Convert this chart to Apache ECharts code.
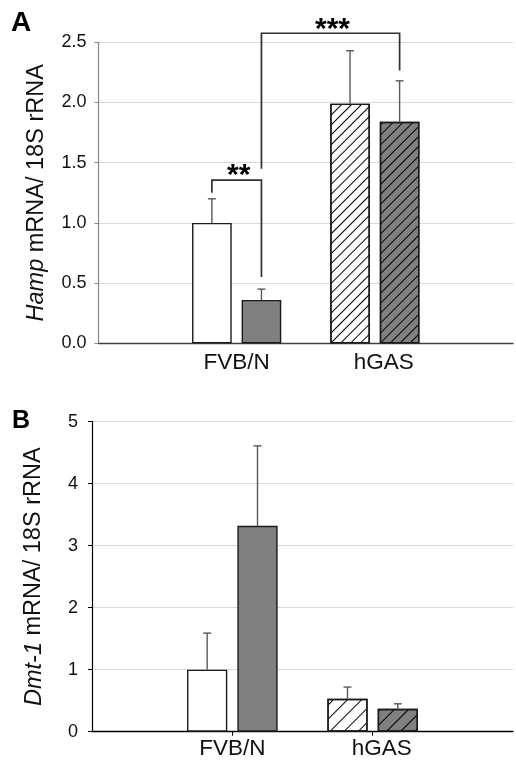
<!DOCTYPE html>
<html><head><meta charset="utf-8">
<script src="https://cdn.jsdelivr.net/npm/echarts@6/dist/echarts.min.js"></script>
<style>html,body{margin:0;padding:0;background:#fff}#c{width:516px;height:763px}</style>
</head><body><div id="c"></div>
<script>
// ---- data ----
const categories = ['', 'FVB/N', 'hGAS', ''];
// Panel A: Hamp mRNA / 18S rRNA
const hampWhite = [null, 1.00, 1.99, null];
const hampWhiteErr = [null, 0.20, 0.44, null];
const hampGray = [null, 0.36, 1.84, null];
const hampGrayErr = [null, 0.09, 0.34, null];
// Panel B: Dmt-1 mRNA / 18S rRNA
const dmtWhite = [null, 1.00, 0.53, null];
const dmtWhiteErr = [null, 0.59, 0.19, null];
const dmtGray = [null, 3.32, 0.37, null];
const dmtGrayErr = [null, 1.29, 0.08, null];
// y tick values
const ticksA = [0, 0.5, 1.0, 1.5, 2.0, 2.5];
const ticksB = [0, 1, 2, 3, 4, 5];
// significance brackets (panel A): [left cat, left bar slot, left end y, right cat, right bar slot, right end y, top y]
const bracketsA = [
  [1, 0, 1.25, 1, 1, 0.55, 1.355],
  [1, 1, 1.45, 2, 1, 2.265, 2.575]
];
const bracketLabelsA = ['**', '***'];
const hatchedCategory = 'hGAS';

// ---- styling ----
const FONT = '"Liberation Sans", Arial, Helvetica, sans-serif';
const BAR_FRAC = 0.287;
const GAP_FRAC = 0.25;

function hatch(gap) {
  return { symbol: 'rect', symbolSize: 1, dashArrayX: [1, 0], dashArrayY: [1, gap - 1], rotation: -Math.PI / 4, color: '#000' };
}
function barData(vals, fill, gap) {
  return vals.map((v, i) => v == null ? '-' : ({
    value: v,
    itemStyle: categories[i] === hatchedCategory ? { color: fill, decal: hatch(gap) } : { color: fill }
  }));
}
function errData(vals, errs, slot) {
  const out = [];
  vals.forEach((v, i) => { if (v != null) out.push([i, v, errs[i], slot]); });
  return out;
}
function slotOffset(api, slot) {
  const band = api.size([1, 0])[0];
  const bw = band * BAR_FRAC;
  return (slot ? 1 : -1) * bw * (1 + GAP_FRAC) / 2;
}
function renderErr(params, api) {
  const cat = api.value(0), m = api.value(1), e = api.value(2), slot = api.value(3);
  const p0 = api.coord([cat, m]);
  const p1 = api.coord([cat, m + e]);
  const x = p0[0] + slotOffset(api, slot);
  const st = { stroke: '#595959', lineWidth: 1.4 };
  return { type: 'group', children: [
    { type: 'line', shape: { x1: x, y1: p0[1], x2: x, y2: p1[1] }, style: st },
    { type: 'line', shape: { x1: x - 4, y1: p1[1], x2: x + 4, y2: p1[1] }, style: st }
  ]};
}
function renderBracket(params, api) {
  const cl = api.value(0), sl = api.value(1), yl = api.value(2);
  const cr = api.value(3), sr = api.value(4), yr = api.value(5), yt = api.value(6);
  const pl = api.coord([cl, yl]), pr = api.coord([cr, yr]), pt = api.coord([cl, yt]);
  const xl = pl[0] + slotOffset(api, sl);
  const xr = pr[0] + slotOffset(api, sr);
  return { type: 'group', children: [
    { type: 'polyline', shape: { points: [[xl, pl[1]], [xl, pt[1]], [xr, pt[1]], [xr, pr[1]]] },
      style: { stroke: '#303030', lineWidth: 1.7, fill: null } },
    { type: 'text', x: (xl + xr) / 2 + 2, y: pt[1] - 4,
      style: { text: bracketLabelsA[params.dataIndex], font: 'bold 30px ' + FONT, fill: '#000', align: 'center', verticalAlign: 'middle' } }
  ]};
}
function catLabel(v) { return v === hatchedCategory ? '{s|' + v + '}' : v; }

const chart = echarts.init(document.getElementById('c'), null, { renderer: 'canvas' });
const option = {
  animation: false,
  backgroundColor: '#fff',
  graphic: [
    { type: 'text', x: 11, y: 23, style: { text: 'A', font: 'bold 28px ' + FONT, fill: '#000', verticalAlign: 'middle' } },
    { type: 'text', x: 12, y: 421, style: { text: 'B', font: 'bold 25px ' + FONT, fill: '#000', verticalAlign: 'middle' } }
  ],
  grid: [
    { left: 98.5, right: 1, top: 42.3, height: 301 },
    { left: 92, right: 1, top: 421.7, height: 310 }
  ],
  xAxis: [
    { gridIndex: 0, type: 'category', data: categories, boundaryGap: false,
      axisLine: { lineStyle: { color: '#404040', width: 1.4 } }, axisTick: { show: false },
      axisLabel: { interval: 0, margin: 8, fontSize: 22.5, fontFamily: FONT, color: '#111', formatter: catLabel,
        rich: { s: { padding: [0, 0, 0, 18], fontSize: 22.5, fontFamily: FONT, color: '#111' } } } },
    { gridIndex: 1, type: 'category', data: categories, boundaryGap: false,
      axisLine: { lineStyle: { color: '#000', width: 1.4 } },
      axisTick: { show: true, length: 4, interval: (i) => i === 1 || i === 2, lineStyle: { color: '#000', width: 1 } },
      axisLabel: { interval: 0, margin: 6, fontSize: 22.5, fontFamily: FONT, color: '#111', formatter: catLabel,
        rich: { s: { padding: [0, 0, 0, 18], fontSize: 22.5, fontFamily: FONT, color: '#111' } } } }
  ],
  yAxis: [
    { gridIndex: 0, type: 'value', min: ticksA[0], max: ticksA[ticksA.length - 1], interval: ticksA[1] - ticksA[0],
      name: '{i|Hamp} mRNA/ 18S rRNA', nameLocation: 'middle', nameGap: 50,
      nameTextStyle: { fontSize: 23.5, fontFamily: FONT, color: '#111',
        rich: { i: { fontStyle: 'italic', fontSize: 23.5, fontFamily: FONT, color: '#111' } } },
      axisLine: { show: true, lineStyle: { color: '#868686', width: 1.2 } },
      axisTick: { show: true, length: 4, lineStyle: { color: '#868686' } },
      splitLine: { show: true, lineStyle: { color: '#d9d9d9', width: 1 } },
      axisLabel: { margin: 12, fontSize: 18, fontFamily: FONT, color: '#111', formatter: (v) => v.toFixed(1) } },
    { gridIndex: 1, type: 'value', min: ticksB[0], max: ticksB[ticksB.length - 1], interval: ticksB[1] - ticksB[0],
      name: '{i|Dmt-1} mRNA/ 18S rRNA', nameLocation: 'middle', nameGap: 46,
      nameTextStyle: { fontSize: 23.5, fontFamily: FONT, color: '#111',
        rich: { i: { fontStyle: 'italic', fontSize: 23.5, fontFamily: FONT, color: '#111' } } },
      axisLine: { show: true, lineStyle: { color: '#000', width: 1.2 } },
      axisTick: { show: true, length: 4, lineStyle: { color: '#000' } },
      splitLine: { show: true, lineStyle: { color: '#d9d9d9', width: 1 } },
      axisLabel: { margin: 14, fontSize: 18, fontFamily: FONT, color: '#111' } }
  ],
  series: [
    { type: 'bar', xAxisIndex: 0, yAxisIndex: 0, barWidth: (BAR_FRAC * 100) + '%', barGap: (GAP_FRAC * 100) + '%',
      data: barData(hampWhite, '#ffffff', 7), itemStyle: { borderColor: '#1a1a1a', borderWidth: 1.4 } },
    { type: 'bar', xAxisIndex: 0, yAxisIndex: 0, barWidth: (BAR_FRAC * 100) + '%', barGap: (GAP_FRAC * 100) + '%',
      data: barData(hampGray, '#808080', 7), itemStyle: { borderColor: '#1a1a1a', borderWidth: 1.4 } },
    { type: 'custom', xAxisIndex: 0, yAxisIndex: 0, z: 3, renderItem: renderErr, data: errData(hampWhite, hampWhiteErr, 0) },
    { type: 'custom', xAxisIndex: 0, yAxisIndex: 0, z: 3, renderItem: renderErr, data: errData(hampGray, hampGrayErr, 1) },
    { type: 'custom', xAxisIndex: 0, yAxisIndex: 0, z: 4, clip: false, renderItem: renderBracket, data: bracketsA },
    { type: 'bar', xAxisIndex: 1, yAxisIndex: 1, barWidth: (BAR_FRAC * 100) + '%', barGap: (GAP_FRAC * 100) + '%',
      data: barData(dmtWhite, '#ffffff', 9.5), itemStyle: { borderColor: '#1a1a1a', borderWidth: 1.4 } },
    { type: 'bar', xAxisIndex: 1, yAxisIndex: 1, barWidth: (BAR_FRAC * 100) + '%', barGap: (GAP_FRAC * 100) + '%',
      data: barData(dmtGray, '#808080', 9.5), itemStyle: { borderColor: '#1a1a1a', borderWidth: 1.4 } },
    { type: 'custom', xAxisIndex: 1, yAxisIndex: 1, z: 3, renderItem: renderErr, data: errData(dmtWhite, dmtWhiteErr, 0) },
    { type: 'custom', xAxisIndex: 1, yAxisIndex: 1, z: 3, renderItem: renderErr, data: errData(dmtGray, dmtGrayErr, 1) }
  ]
};
chart.setOption(option);
</script>
</body></html>
